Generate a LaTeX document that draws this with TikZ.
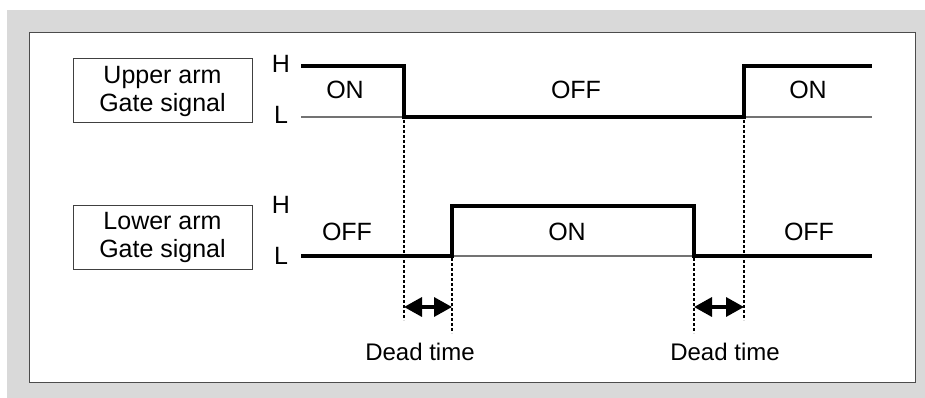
\documentclass[tikz,border=0pt]{standalone}
\usepackage{fontspec}
\setmainfont{Liberation Sans}
\usetikzlibrary{arrows.meta}
\begin{document}
\begin{tikzpicture}[x=1pt,y=-1pt,
  sig/.style={line width=3.4pt, line join=miter},
  refline/.style={line width=1.4pt, draw=black!55},
  guide/.style={line width=1.8pt, dash pattern=on 3pt off 2pt},
  txt/.style={inner sep=0pt, font=\fontsize{25}{28}\selectfont},
  dtxt/.style={inner sep=0pt, font=\fontsize{24}{28}\selectfont},
  tag/.style={draw=black!75, line width=1pt, minimum width=179pt, minimum height=64pt,
    align=center, inner sep=0pt, font=\fontsize{25}{28}\selectfont},
  span/.style={{Triangle[length=18pt,width=19pt]}-{Triangle[length=18pt,width=19pt]}, line width=3.4pt}
]
\useasboundingbox (0,0) rectangle (925,398);
% frame
\fill[black!15] (7,10) rectangle (925,398);
\draw[fill=white, draw=black!70, line width=1pt] (29,33) rectangle (915,382);

% signal labels
\node[tag] (upper) at (162.5,91) {Upper arm\\Gate signal};
\node[tag] (lower) at (162.5,237) {Lower arm\\Gate signal};

\node[txt] (uHl) at (281,64) {H};
\node[txt] (uLl) at (281,115) {L};
\node[txt] (lHl) at (281,205) {H};
\node[txt] (lLl) at (281,256) {L};

% key time points
\coordinate (uA) at (301,66);
\coordinate (uB) at (404,66);
\coordinate (uC) at (404,117);
\coordinate (uD) at (744,117);
\coordinate (uE) at (744,66);
\coordinate (uF) at (872,66);
\coordinate (uL0) at (301,117);
\coordinate (uL1) at (872,117);

\coordinate (lA) at (301,256);
\coordinate (lB) at (452,256);
\coordinate (lC) at (452,206);
\coordinate (lD) at (694,206);
\coordinate (lE) at (694,256);
\coordinate (lF) at (872,256);

% low reference levels
\draw[refline] (uL0) -- (uC);
\draw[refline] (uD) -- (uL1);
\draw[refline] (lB) -- (lE);

% waveforms
\draw[sig] (uA) -- (uB) -- (uC) -- (uD) -- (uE) -- (uF);
\draw[sig] (lA) -- (lB) -- (lC) -- (lD) -- (lE) -- (lF);

% state texts
\node[txt] (s1) at (345,90) {ON};
\node[txt] (s2) at (576,90) {OFF};
\node[txt] (s3) at (808,90) {ON};
\node[txt] (s4) at (347,232) {OFF};
\node[txt] (s5) at (567,232) {ON};
\node[txt] (s6) at (809,232) {OFF};

% dead time guides
\coordinate (g1t) at (404,120); \coordinate (g1b) at (404,320);
\coordinate (g2t) at (452,258); \coordinate (g2b) at (452,333);
\coordinate (g3t) at (694,258); \coordinate (g3b) at (694,333);
\coordinate (g4t) at (744,120); \coordinate (g4b) at (744,320);
\draw[guide] (g1t) -- (g1b);
\draw[guide] (g2t) -- (g2b);
\draw[guide] (g3t) -- (g3b);
\draw[guide] (g4t) -- (g4b);

\coordinate (a1) at (404,307); \coordinate (a2) at (452,307);
\coordinate (a3) at (694,307); \coordinate (a4) at (744,307);
\draw[span] (a1) -- (a2);
\draw[span] (a3) -- (a4);

\node[dtxt] (d1) at (420,352) {Dead time};
\node[dtxt] (d2) at (725,352) {Dead time};
\end{tikzpicture}
\end{document}
